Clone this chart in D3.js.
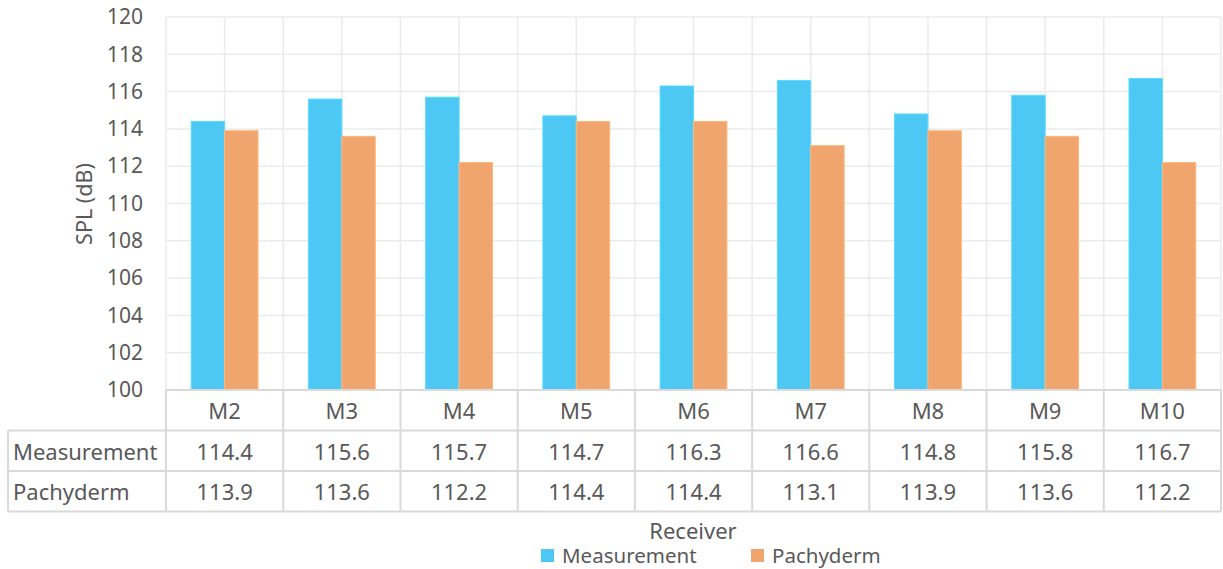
<!DOCTYPE html>
<html>
<head>
<meta charset="utf-8">
<script src="https://cdn.jsdelivr.net/npm/d3@7"></script>
<style>
  html, body { margin: 0; padding: 0; background: #fff; }
  svg { display: block; font-family: "Noto Sans", "Open Sans", sans-serif; }
</style>
</head>
<body>
<svg id="chart" width="1223" height="569"></svg>
<script>
// Receivers along the category axis
const receivers = ["M2", "M3", "M4", "M5", "M6", "M7", "M8", "M9", "M10"];
// Sound pressure level per receiver (dB)
const measurement = [114.4, 115.6, 115.7, 114.7, 116.3, 116.6, 114.8, 115.8, 116.7];
const pachyderm   = [113.9, 113.6, 112.2, 114.4, 114.4, 113.1, 113.9, 113.6, 112.2];
const seriesNames = ["Measurement", "Pachyderm"];
const yTicks = [100, 102, 104, 106, 108, 110, 112, 114, 116, 118, 120];

const series = [
  { name: seriesNames[0], values: measurement, color: "#4DC7F3" },
  { name: seriesNames[1], values: pachyderm,   color: "#F0A46E" }
];

const svg = d3.select("#chart");
const textColor = "#595959";
const gridColor = "#EBEBEB";
const tableColor = "#D9D9D9";

const plot = { left: 166, right: 1221, top: 17, bottom: 390 };
const rowH = 40.5;
const tableLeft = 8;

const x = d3.scaleBand().domain(receivers).range([plot.left, plot.right]).paddingInner(0).paddingOuter(0);
const y = d3.scaleLinear().domain([100, 120]).range([plot.bottom, plot.top]);
const bw = x.bandwidth();
const groupW = bw * 0.57;
const xs = d3.scaleBand().domain(seriesNames).range([0, groupW]);

// Horizontal gridlines
svg.append("g").selectAll("line").data(yTicks).join("line")
  .attr("x1", plot.left).attr("x2", plot.right)
  .attr("y1", d => y(d)).attr("y2", d => y(d))
  .attr("stroke", gridColor).attr("stroke-width", 1.5);

// Vertical gridlines at category edges and centres
const vLines = [];
receivers.forEach(r => { vLines.push(x(r)); vLines.push(x(r) + bw / 2); });
vLines.push(plot.right);
svg.append("g").selectAll("line").data(vLines).join("line")
  .attr("x1", d => d).attr("x2", d => d)
  .attr("y1", plot.top).attr("y2", plot.bottom)
  .attr("stroke", gridColor).attr("stroke-width", 1.5);

// Bars
const gBars = svg.append("g");
series.forEach(s => {
  gBars.append("g").selectAll("rect").data(receivers).join("rect")
    .attr("x", r => x(r) + (bw - groupW) / 2 + xs(s.name))
    .attr("width", xs.bandwidth())
    .attr("y", (r, i) => y(s.values[i]))
    .attr("height", (r, i) => y(100) - y(s.values[i]))
    .attr("fill", s.color)
    .attr("stroke", d3.color(s.color).brighter(0.3))
    .attr("stroke-width", 1);
});

// Y axis tick labels
const yAxis = d3.axisLeft(y).tickValues(yTicks).tickSize(0).tickPadding(0);
const gy = svg.append("g").attr("transform", "translate(143,0)").call(yAxis);
gy.select(".domain").remove();
gy.selectAll("text").attr("fill", textColor).style("font-size", "21px")
  .style("font-family", "\"Noto Sans\", sans-serif");

// Y axis title
svg.append("text")
  .attr("transform", "translate(92,204) rotate(-90)")
  .attr("text-anchor", "middle")
  .attr("fill", textColor).style("font-size", "21.5px")
  .text("SPL (dB)");

// Data table: header row of categories, then one row per series
const rowsY = [plot.bottom, plot.bottom + rowH, plot.bottom + 2 * rowH, plot.bottom + 3 * rowH];
const gt = svg.append("g");
const lineAttrs = sel => sel.attr("stroke", tableColor).attr("stroke-width", 2);

// horizontal lines
gt.append("line").call(lineAttrs)
  .attr("x1", plot.left).attr("x2", plot.right).attr("y1", rowsY[0]).attr("y2", rowsY[0]);
[1, 2, 3].forEach(k => {
  gt.append("line").call(lineAttrs)
    .attr("x1", tableLeft).attr("x2", plot.right).attr("y1", rowsY[k]).attr("y2", rowsY[k]);
});
// vertical lines
receivers.forEach(r => {
  gt.append("line").call(lineAttrs)
    .attr("x1", x(r)).attr("x2", x(r)).attr("y1", rowsY[0]).attr("y2", rowsY[3]);
});
gt.append("line").call(lineAttrs)
  .attr("x1", plot.right).attr("x2", plot.right).attr("y1", rowsY[0]).attr("y2", rowsY[3]);
gt.append("line").call(lineAttrs)
  .attr("x1", tableLeft).attr("x2", tableLeft).attr("y1", rowsY[1]).attr("y2", rowsY[3]);

const cellFont = "22px";

// category labels
gt.append("g").selectAll("text").data(receivers).join("text")
  .attr("x", r => x(r) + bw / 2).attr("y", (rowsY[0] + rowsY[1]) / 2)
  .attr("text-anchor", "middle").attr("dominant-baseline", "central")
  .attr("fill", textColor).style("font-size", cellFont)
  .text(r => r);

// series rows
series.forEach((s, k) => {
  const cy = (rowsY[k + 1] + rowsY[k + 2]) / 2;
  gt.append("text")
    .attr("x", tableLeft + 5).attr("y", cy)
    .attr("dominant-baseline", "central")
    .attr("fill", textColor).style("font-size", cellFont)
    .text(s.name);
  gt.append("g").selectAll("text").data(receivers).join("text")
    .attr("x", r => x(r) + bw / 2).attr("y", cy)
    .attr("text-anchor", "middle").attr("dominant-baseline", "central")
    .attr("fill", textColor).style("font-size", cellFont)
    .text((r, i) => s.values[i].toFixed(1));
});

// X axis title
svg.append("text")
  .attr("x", 693).attr("y", 539)
  .attr("text-anchor", "middle")
  .attr("fill", textColor).style("font-size", "22px")
  .text("Receiver");

// Legend
const legendX = [541, 751];
series.forEach((s, k) => {
  const g = svg.append("g").attr("transform", `translate(${legendX[k]},549)`);
  g.append("rect").attr("width", 13).attr("height", 13).attr("fill", s.color);
  g.append("text").attr("x", 21).attr("y", 14)
    .attr("fill", textColor).style("font-size", "20.5px")
    .text(s.name);
});
</script>
</body>
</html>
